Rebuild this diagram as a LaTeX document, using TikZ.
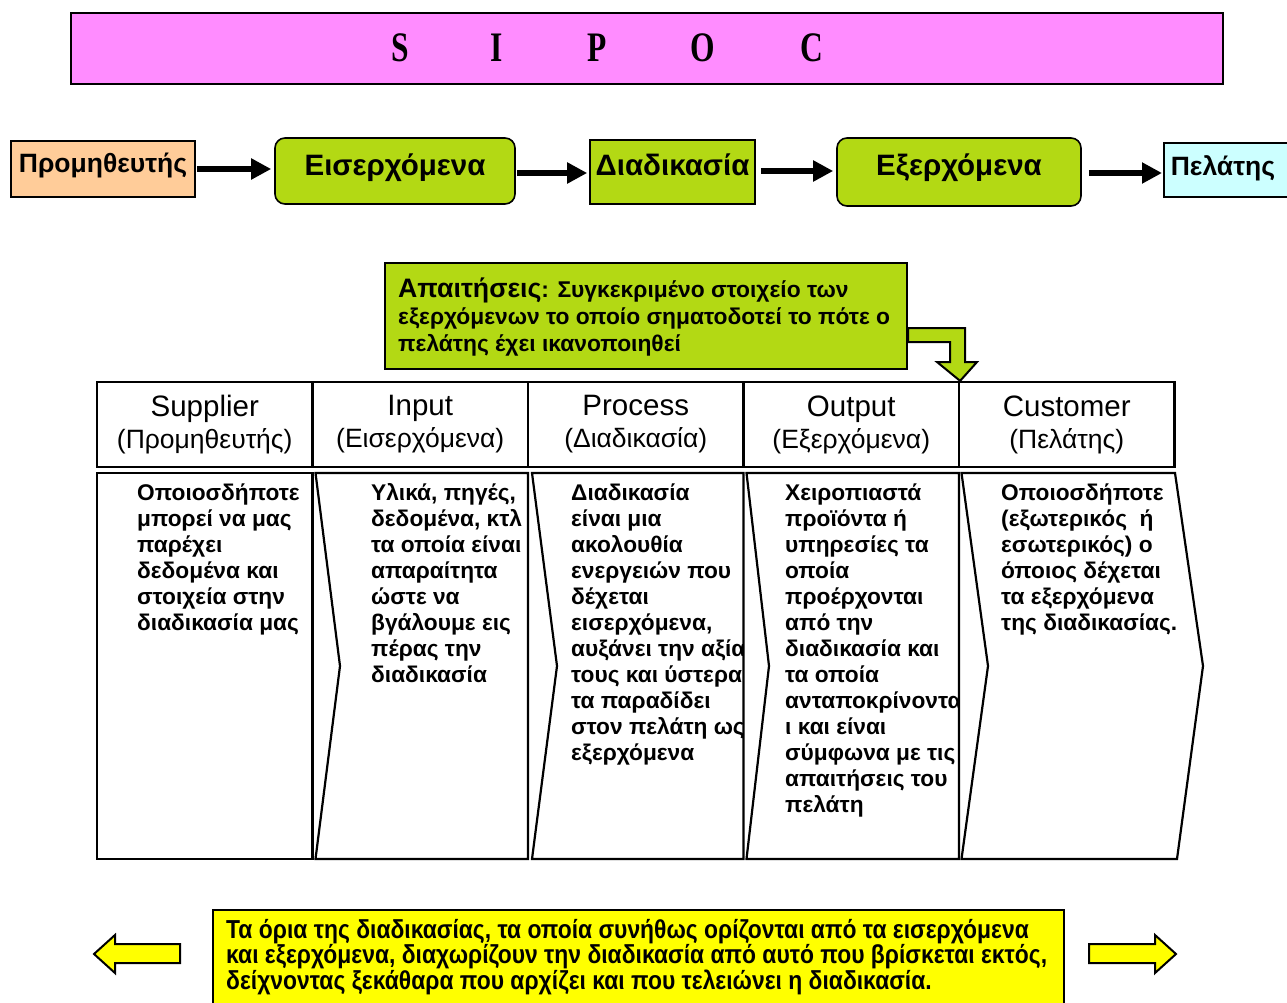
\documentclass[tikz,border=0pt]{standalone}
\usepackage{fontspec}
\setmainfont{Liberation Sans}
\newfontfamily\titlefont[FakeStretch=0.75]{Liberation Serif}
\newfontfamily\narrowfont[FakeStretch=0.88]{Liberation Sans}
\usetikzlibrary{arrows.meta,calc}

\definecolor{pinkband}{RGB}{255,140,255}
\definecolor{limegreen}{RGB}{179,217,20}
\definecolor{peach}{RGB}{255,204,153}
\definecolor{palecyan}{RGB}{204,255,255}
\definecolor{brightyellow}{RGB}{255,255,0}

\tikzset{
  flowbox/.style={draw, line width=1.6pt, inner sep=0pt,
    font=\bfseries\fontsize{29.5}{32}\selectfont},
  endbox/.style={flowbox, font=\bfseries\fontsize{26.5}{30}\selectfont},
  flowarrow/.style={line width=5.5pt, -{Triangle[length=20pt,width=20pt]}},
  headcell/.style={draw, line width=2.2pt, inner sep=0pt, minimum height=85pt,
    minimum width=215.5pt, align=center, font=\fontsize{26.5}{32}\selectfont},
  bodyshape/.style={draw, line width=2.2pt, fill=white, line join=miter},
  % multi-line texts are anchored at the baseline of their last line
  bodytext/.style={anchor=base west, inner sep=0pt, align=left,
    font=\bfseries\fontsize{22.7}{26}\selectfont},
  yellowarrow/.style={draw, line width=2pt, fill=brightyellow},
}
\newcommand{\latinhead}[1]{{\fontsize{29.5}{32}\selectfont #1}}
% put a label's baseline at the given offset from the box centre
\newcommand{\onbase}[2]{\raisebox{#1}[0pt][0pt]{#2}}

\begin{document}
\begin{tikzpicture}[x=1pt,y=-1pt]
\useasboundingbox (0,0) rectangle (1287,1003);

% title band
\node[draw, line width=1.8pt, fill=pinkband, minimum width=1152pt,
      minimum height=71pt, inner sep=0pt] (banner) at (647,48.5) {};
\foreach \l/\x in {S/400,I/497,P/597,O/703,C/812}
  \node[font=\titlefont\bfseries\fontsize{42}{42}\selectfont, inner sep=0pt]
    (t\l) at (\x,48) {\l};

% SIPOC flow row
\node[endbox, fill=peach, minimum width=184pt, minimum height=56pt]
  (sup) at (103,169) {\onbase{-3.5pt}{Προμηθευτής}};
\node[flowbox, fill=limegreen, rounded corners=10pt, minimum width=240pt,
      minimum height=66pt] (inp) at (395,171) {\onbase{-4.5pt}{Εισερχόμενα}};
\node[flowbox, fill=limegreen, minimum width=165pt, minimum height=64pt]
  (proc) at (672.5,172) {\onbase{-4pt}{Διαδικασία}};
\node[flowbox, fill=limegreen, rounded corners=10pt, minimum width=244pt,
      minimum height=68pt] (out) at (959,172) {\onbase{-4pt}{Εξερχόμενα}};
\node[endbox, fill=palecyan, anchor=west, minimum height=54pt,
      text width=118pt, inner xsep=7pt, align=left]
  (cust) at (1163,170) {\onbase{-5.5pt}{Πελάτης}};

\draw[flowarrow, shorten <=1pt, shorten >=3pt] (sup.east) -- (inp.west |- sup.east);
\draw[flowarrow, shorten <=1pt, shorten >=2pt] ([yshift=-2pt]inp.east) -- ([yshift=-2pt]proc.west |- inp.east);
\draw[flowarrow, shorten <=5pt, shorten >=3pt] ([yshift=1pt]proc.east) -- ([yshift=1pt]out.west |- proc.east);
\draw[flowarrow, shorten <=7pt, shorten >=1pt] ([yshift=-1pt]out.east) -- ([yshift=-1pt]cust.west |- out.east);

% requirements note
\node[draw, line width=2pt, fill=limegreen, minimum width=522pt,
      minimum height=106pt, inner sep=0pt] (req) at (646,316) {};
\node[anchor=base west, inner sep=0pt, align=left,
      font=\bfseries\fontsize{22.8}{27}\selectfont] (reqtext) at (398,351)
  {{\fontsize{26.7}{27}\selectfont Απαιτήσεις}: Συγκεκριμένο στοιχείο των\\
   εξερχόμενων το οποίο σηματοδοτεί το πότε ο\\
   πελάτης έχει ικανοποιηθεί};

% header cells
\node[headcell] (hS) at (204.75,424.5) {\latinhead{Supplier}\\(Προμηθευτής)};
\node[headcell] (hI) at (420.25,424.5) {\latinhead{Input}\\(Εισερχόμενα)};
\node[headcell] (hP) at (635.75,424.5) {\latinhead{Process}\\(Διαδικασία)};
\node[headcell] (hO) at (851.25,424.5) {\latinhead{Output}\\(Εξερχόμενα)};
\node[headcell] (hC) at (1066.75,424.5) {\latinhead{Customer}\\(Πελάτης)};

% bent block arrow from the note down to the Output/Customer border
\draw[line width=2pt, fill=limegreen, line join=miter]
  (req.east |- 0,328) -- (965,328) -- (965,362) -- (977,362)
  -- (hO.north east) -- (937,362) -- (950,362) -- (950,342)
  -- (req.east |- 0,342) -- cycle;

% body chevrons and their texts
\draw[bodyshape] (97,473) rectangle (312.5,859);
\begin{scope}
  \clip (97,470) rectangle (311,862);
  \node[bodytext] (b1) at (137,630)
    {Οποιοσδήποτε\\μπορεί να μας\\παρέχει\\δεδομένα και\\στοιχεία στην\\διαδικασία μας};
\end{scope}

\draw[bodyshape] (315.5,473) -- (528,473) -- (528,859) -- (315.5,859) -- (340,666) -- cycle;
\begin{scope}
  \clip (315,470) rectangle (527,862);
  \node[bodytext] (b2) at (371,682)
    {Υλικά, πηγές,\\δεδομένα, κτλ\\τα οποία είναι\\απαραίτητα\\ώστε να\\βγάλουμε εις\\πέρας την\\διαδικασία};
\end{scope}

\draw[bodyshape] (532,473) -- (743.5,473) -- (743.5,859) -- (532,859) -- (557,666) -- cycle;
\begin{scope}
  \clip (532,470) rectangle (742.5,862);
  \node[bodytext] (b3) at (571,760)
    {Διαδικασία\\είναι μια\\ακολουθία\\ενεργειών που\\δέχεται\\εισερχόμενα,\\αυξάνει την αξία\\τους και ύστερα\\τα παραδίδει\\στον πελάτη ως\\εξερχόμενα};
\end{scope}

\draw[bodyshape] (746.5,473) -- (959,473) -- (959,859) -- (746.5,859) -- (769,666) -- cycle;
\begin{scope}
  \clip (746,470) rectangle (958,862);
  \node[bodytext] (b4) at (785,812)
    {Χειροπιαστά\\προϊόντα ή\\υπηρεσίες τα\\οποία\\προέρχονται\\από την\\διαδικασία και\\τα οποία\\ανταποκρίνοντα\\ι και είναι\\σύμφωνα με τις\\απαιτήσεις του\\πελάτη};
\end{scope}

\draw[bodyshape] (961.5,473) -- (1175,473) -- (1203,666) -- (1177,859) -- (961.5,859) -- (988,666) -- cycle;
\node[bodytext] (b5) at (1001,630)
  {Οποιοσδήποτε\\(εξωτερικός~~ή\\εσωτερικός) ο\\όποιος δέχεται\\τα εξερχόμενα\\της διαδικασίας.};

% process boundary note with side arrows
\draw[line width=2pt, fill=brightyellow] (213,910) rectangle (1064,1010);
\node[anchor=base west, inner sep=0pt, align=left,
      font=\narrowfont\bfseries\fontsize{26}{25.5}\selectfont] (bound) at (226,989)
  {Τα όρια της διαδικασίας, τα οποία συνήθως ορίζονται από τα εισερχόμενα\\
   και εξερχόμενα, διαχωρίζουν την διαδικασία από αυτό που βρίσκεται εκτός,\\
   δείχνοντας ξεκάθαρα που αρχίζει και που τελειώνει η διαδικασία.};

\draw[yellowarrow] (180,944) -- (115,944) -- (115,935) -- (94,954)
  -- (115,973) -- (115,963) -- (180,963) -- cycle;
\draw[yellowarrow] (1089,944) -- (1155,944) -- (1155,935) -- (1176,954)
  -- (1155,973) -- (1155,963) -- (1089,963) -- cycle;
\end{tikzpicture}
\end{document}
